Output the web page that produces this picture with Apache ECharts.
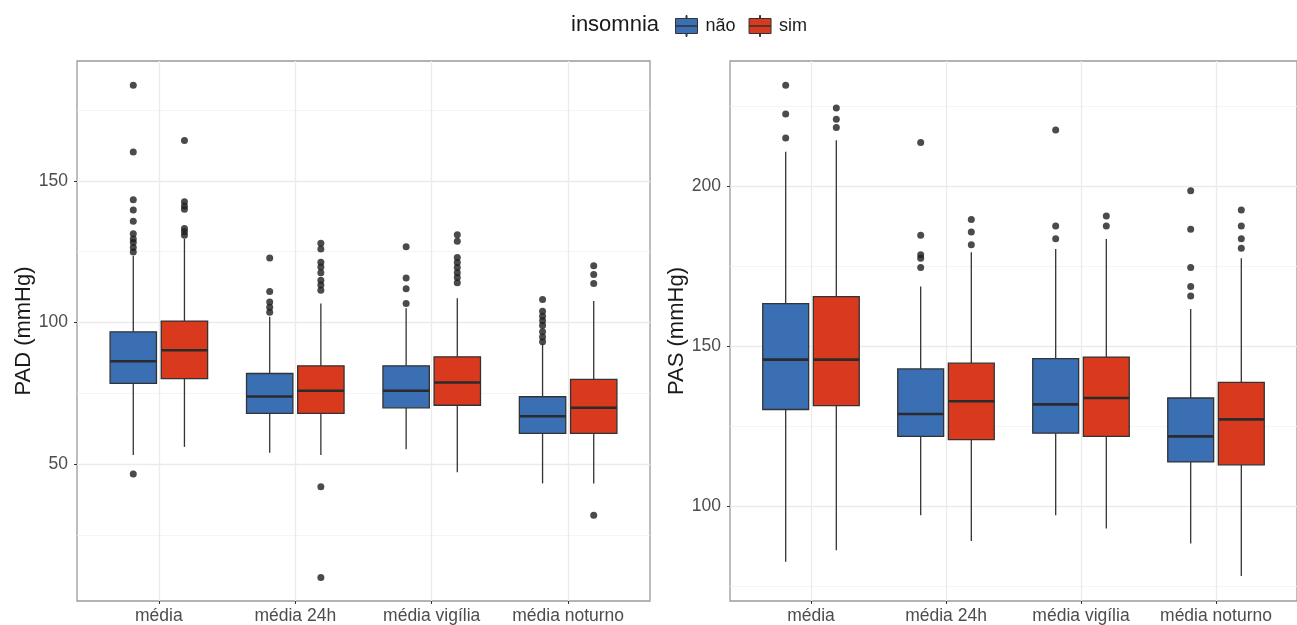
<!DOCTYPE html>
<html>
<head>
<meta charset="utf-8">
<script src="https://cdn.jsdelivr.net/npm/echarts@6/dist/echarts.min.js"></script>
<style>
html,body{margin:0;padding:0;background:#fff;}
#chart{width:1297px;height:625px;}
</style>
</head>
<body>
<div id="chart"></div>
<script>
// ---- data ----
const categories = ['média', 'média 24h', 'média vigília', 'média noturno'];
const groups = ['não', 'sim'];
// [lower whisker, Q1, median, Q3, upper whisker] per category
const padNao = [[53.2, 78.5, 86.3, 96.7, 123.5], [54.0, 67.9, 73.9, 82.0, 102.0], [55.3, 69.9, 75.9, 84.7, 105.0], [43.2, 60.9, 66.9, 73.8, 92.5]];
const padSim = [[56.1, 80.2, 90.2, 100.5, 129.5], [53.2, 67.9, 75.9, 84.7, 106.7], [47.1, 70.8, 78.8, 87.9, 108.6], [43.2, 60.9, 69.9, 79.9, 107.6]];
const padNaoOut = [[183.7, 160.2, 143.3, 139.7, 135.7, 131.3, 129.5, 128.2, 126.5, 124.9, 46.5], [122.8, 110.9, 107.2, 105.4, 103.6], [126.7, 115.7, 111.9, 106.7], [108.1, 104.0, 102.2, 100.6, 98.9, 96.7, 94.9, 93.2]];
const padSimOut = [[164.2, 142.6, 141.1, 140.0, 133.2, 132.0, 130.8], [128.0, 125.9, 121.3, 119.6, 117.6, 114.9, 113.2, 111.4, 42.0, 10.0], [131.0, 128.7, 122.9, 121.2, 119.4, 117.6, 115.9, 114.0], [120.0, 116.9, 113.8, 32.0]];
const pasNao = [[82.7, 130.3, 145.9, 163.4, 210.9], [97.2, 121.9, 128.9, 143.0, 168.8], [97.2, 122.9, 131.9, 146.2, 180.5], [88.4, 113.9, 121.9, 133.9, 161.7]];
const pasSim = [[86.3, 131.5, 145.9, 165.6, 214.5], [89.2, 120.9, 132.9, 144.8, 179.5], [93.1, 121.9, 133.9, 146.7, 183.6], [78.2, 113.0, 127.2, 138.8, 177.6]];
const pasNaoOut = [[231.7, 222.7, 215.2], [213.8, 184.8, 178.7, 177.6, 174.7], [217.7, 187.7, 183.7], [198.7, 186.7, 174.7, 168.8, 165.8]];
const pasSimOut = [[224.6, 221.1, 218.5], [189.7, 185.8, 181.8], [190.8, 187.7], [192.7, 187.7, 183.7, 180.7]];
const padTicks = [50, 100, 150];
const padMinor = [25, 75, 125, 175];
const pasTicks = [100, 150, 200];
const pasMinor = [75, 125, 175, 225];
const yTitles = ['PAD (mmHg)', 'PAS (mmHg)'];
const legendTitle = 'insomnia';

// ---- style ----
const FONT = 'Liberation Sans, Arial, sans-serif';
const COLORS = ['#3B6FB4', '#D93A1D'];
const DODGE = 0.1875;
const BOX_W = 0.34;

function boxData(stats, off) {
  return stats.map((s, i) => [i + 1 + off, s[0], s[1], s[2], s[3], s[4]]);
}
function outData(outs, off) {
  const r = [];
  outs.forEach((arr, i) => arr.forEach(v => r.push([i + 1 + off, v])));
  return r;
}
function renderBox(params, api) {
  const x = api.value(0);
  const pLo = api.coord([x, api.value(1)]);
  const pQ1 = api.coord([x, api.value(2)]);
  const pMed = api.coord([x, api.value(3)]);
  const pQ3 = api.coord([x, api.value(4)]);
  const pHi = api.coord([x, api.value(5)]);
  const half = api.size([BOX_W, 0])[0] / 2;
  const cx = pLo[0];
  const ws = { stroke: '#333', lineWidth: 1.3 };
  return {
    type: 'group',
    children: [
      { type: 'line', shape: { x1: cx, y1: pHi[1], x2: cx, y2: pQ3[1] }, style: ws },
      { type: 'line', shape: { x1: cx, y1: pQ1[1], x2: cx, y2: pLo[1] }, style: ws },
      { type: 'rect', shape: { x: cx - half, y: pQ3[1], width: 2 * half, height: pQ1[1] - pQ3[1] },
        style: { fill: api.visual('color'), stroke: '#333', lineWidth: 1.3 } },
      { type: 'line', shape: { x1: cx - half, y1: pMed[1], x2: cx + half, y2: pMed[1] },
        style: { stroke: '#2b2b2b', lineWidth: 2.6 } }
    ]
  };
}

const grids = [
  { left: 77, top: 61, width: 573, height: 540 },
  { left: 730, top: 61, width: 573, height: 540 }
];
const yExt = [[1.7, 192.3], [70.4, 239.3]];
const yTickSets = [padTicks, pasTicks];
const yMinorSets = [padMinor, pasMinor];
const nameGaps = [40, 41];

const xAxes = [], yAxes = [], series = [];
[0, 1].forEach(g => {
  xAxes.push({
    type: 'value', gridIndex: g, min: 0.4, max: 4.6,
    axisLine: { show: false },
    axisTick: { show: true, customValues: [1, 2, 3, 4], length: 3, lineStyle: { color: '#333', width: 1 } },
    axisLabel: { customValues: [1, 2, 3, 4], formatter: v => categories[Math.round(v) - 1],
      color: '#4d4d4d', fontSize: 17.5, fontFamily: FONT, margin: 6 },
    splitLine: { show: true, lineStyle: { color: '#ebebeb', width: 1.3 } }
  });
  yAxes.push({
    type: 'value', gridIndex: g, min: yExt[g][0], max: yExt[g][1],
    axisLine: { show: false },
    axisTick: { show: true, customValues: yTickSets[g], length: 3, lineStyle: { color: '#333', width: 1 } },
    axisLabel: { customValues: yTickSets[g], color: '#4d4d4d', fontSize: 17.5, fontFamily: FONT, margin: 9 },
    splitLine: { show: true, lineStyle: { color: '#ebebeb', width: 1.3 } },
    name: yTitles[g], nameLocation: 'middle', nameGap: nameGaps[g],
    nameTextStyle: { color: '#1a1a1a', fontSize: 22, fontFamily: FONT }
  });
  yAxes.push({
    type: 'value', gridIndex: g, min: yExt[g][0], max: yExt[g][1],
    axisLine: { show: false },
    axisTick: { show: false, customValues: yMinorSets[g] },
    axisLabel: { show: false, customValues: yMinorSets[g] },
    splitLine: { show: true, lineStyle: { color: '#f3f3f3', width: 0.8 } }
  });
});

const statSets = [[padNao, padSim], [pasNao, pasSim]];
const outSets = [[padNaoOut, padSimOut], [pasNaoOut, pasSimOut]];
[0, 1].forEach(g => {
  [0, 1].forEach(k => {
    const off = k === 0 ? -DODGE : DODGE;
    series.push({
      type: 'custom', name: groups[k], xAxisIndex: g, yAxisIndex: 2 * g,
      itemStyle: { color: COLORS[k] },
      renderItem: renderBox,
      encode: { x: 0, y: [1, 2, 3, 4, 5] },
      data: boxData(statSets[g][k], off),
      silent: true, z: 3
    });
    series.push({
      type: 'scatter', xAxisIndex: g, yAxisIndex: 2 * g,
      symbol: 'circle', symbolSize: 7,
      itemStyle: { color: '#1e1e1e' },
      data: outData(outSets[g][k], off),
      silent: true, z: 4
    });
  });
});

const keyIcon = 'path://M10.5,0 L11.5,0 L11.5,3 L10.5,3 Z M0,3 L22,3 L22,10.5 L0,10.5 Z M0,10.5 L22,10.5 L22,18 L0,18 Z M10.5,18 L11.5,18 L11.5,21 L10.5,21 Z';

const option = {
  animation: false,
  backgroundColor: '#fff',
  title: {
    text: legendTitle, left: 571, top: 14, padding: 0,
    textStyle: { fontSize: 22, fontWeight: 'normal', color: '#1a1a1a', fontFamily: FONT }
  },
  legend: {
    data: groups, left: 675, top: 15, orient: 'horizontal', padding: 0,
    icon: keyIcon, itemWidth: 22, itemHeight: 21, itemGap: 13,
    itemStyle: { borderColor: '#333', borderWidth: 1 },
    textStyle: { fontSize: 18, color: '#1a1a1a', fontFamily: FONT, padding: [0, 0, 0, 3] },
    selectedMode: false
  },
  grid: grids.map(gr => Object.assign({ show: true, borderColor: '#9a9a9a', borderWidth: 1.3, backgroundColor: 'transparent', containLabel: false }, gr)),
  xAxis: xAxes,
  yAxis: yAxes,
  series: series
};
const chart = echarts.init(document.getElementById('chart'), null, { renderer: 'canvas' });
chart.setOption(option);
</script>
</body>
</html>
